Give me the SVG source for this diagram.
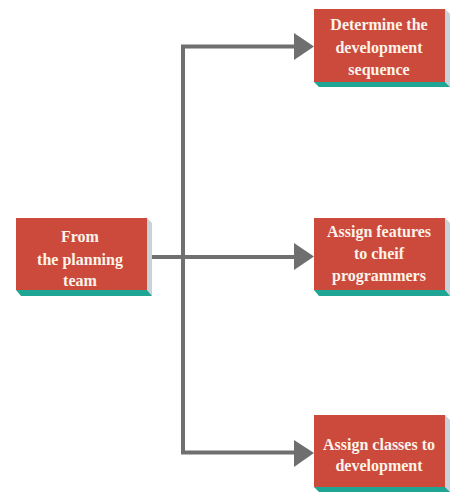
<svg xmlns="http://www.w3.org/2000/svg" width="474" height="499" viewBox="0 0 474 499">
<style>
.box{fill:#CC4A3C}
.side{fill:#C9D1D9}
.bot{fill:#1FA593}
.t{font-family:"Liberation Serif","Times New Roman",serif;font-weight:bold;font-size:16px;fill:#FBF3EA;text-anchor:middle}
.ln{fill:none;stroke:#6F6F6F;stroke-width:4}
.ah{fill:#6F6F6F}
</style>
<rect width="474" height="499" fill="#ffffff"/>
<g id="connectors">
<path class="ln" d="M152,257 H296 M296,46.5 H183 V452.5 H296"/>
<polygon class="ah" points="294,33 314,46.5 294,60"/>
<polygon class="ah" points="294,243 314,256.5 294,270"/>
<polygon class="ah" points="294,440 314,453 294,467"/>
</g>
<g id="from">
<polygon class="side" points="147,218 152,223 152,296 147,290"/>
<polygon class="bot" points="16,290 147,290 152,296 21,296"/>
<rect class="box" x="16" y="218" width="131" height="72"/>
<text class="t" x="80" y="242">From</text>
<text class="t" x="80" y="265">the planning</text>
<text class="t" x="80" y="286">team</text>
</g>
<g id="determine">
<polygon class="side" points="445,9 450,14 450,87 445,82"/>
<polygon class="bot" points="314,82 445,82 450,87 319,87"/>
<rect class="box" x="314" y="9" width="131" height="73"/>
<text class="t" x="379" y="30">Determine the</text>
<text class="t" x="379" y="53">development</text>
<text class="t" x="379" y="75">sequence</text>
</g>
<g id="assign-features">
<polygon class="side" points="445,218 450,223 450,296 445,290"/>
<polygon class="bot" points="314,290 445,290 450,296 319,296"/>
<rect class="box" x="314" y="218" width="131" height="72"/>
<text class="t" x="379" y="237">Assign features</text>
<text class="t" x="379" y="259">to cheif</text>
<text class="t" x="379" y="281">programmers</text>
</g>
<g id="assign-classes">
<polygon class="side" points="445,415 450,420 450,492 445,487"/>
<polygon class="bot" points="314,487 445,487 450,492 319,492"/>
<rect class="box" x="314" y="415" width="131" height="72"/>
<text class="t" x="379" y="450">Assign classes to</text>
<text class="t" x="379" y="471">development</text>
</g>
</svg>
